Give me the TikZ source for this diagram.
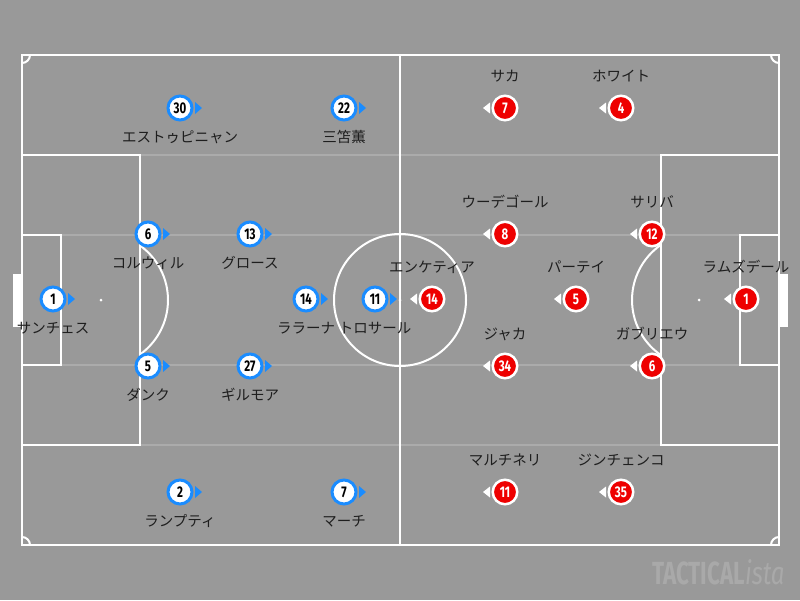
\documentclass[tikz,border=0pt]{standalone}
\usepackage{fontspec}
\setmainfont{Fira Sans}
\newfontfamily\jpfont{Noto Sans CJK JP}
\usetikzlibrary{calc}
\definecolor{bg}{HTML}{999999}
\definecolor{faint}{HTML}{ABABAB}
\definecolor{tblue}{HTML}{1A8CFF}
\definecolor{tred}{HTML}{EE0000}
\definecolor{logoc}{HTML}{A9A9A9}
\definecolor{txt}{HTML}{1E1E1E}
\tikzset{
  pline/.style={draw=white, line width=2pt},
  fline/.style={draw=faint, line width=1.5pt},
  bp/.style={circle, draw=tblue, fill=white, line width=3pt, minimum size=24pt, inner sep=0pt, text=black, font=\bfseries\fontsize{15.5}{15.5}\selectfont},
  rp/.style={circle, draw=white, fill=tred, line width=2.5pt, minimum size=24.5pt, inner sep=0pt, text=white, font=\bfseries\fontsize{15.5}{15.5}\selectfont},
  lab/.style={font=\jpfont\fontsize{14.5}{14.5}\selectfont, text=txt, inner sep=0pt},
}
\newcommand\bplayer[5]{%
  \node[bp] (#1) at (#2,#3) {\scalebox{0.74}[1]{#4}};
  \fill[tblue] ([xshift=1.5pt,yshift=6pt]#1.east) -- ([xshift=8.5pt]#1.east) -- ([xshift=1.5pt,yshift=-6pt]#1.east) -- cycle;
  \node[lab] (#1l) at (#2,#3+29) {#5};
}
\newcommand\rplayer[5]{%
  \node[rp] (#1) at (#2,#3) {\scalebox{0.74}[1]{#4}};
  \fill[white] ([xshift=-1.5pt,yshift=5.5pt]#1.west) -- ([xshift=-8.5pt]#1.west) -- ([xshift=-1.5pt,yshift=-5.5pt]#1.west) -- cycle;
  \node[lab] (#1l) at (#2,#3-32) {#5};
}
\begin{document}
\begin{tikzpicture}[x=1pt,y=-1pt]
\fill[bg] (0,0) rectangle (800,600);
\useasboundingbox (0,0) rectangle (800,600);
% faint stripes
\foreach \yy in {155,235,365,445} \draw[fline] (22,\yy) -- (779,\yy);
% pitch
\draw[pline] (22,55) rectangle (779,545);
\draw[pline] (400,55) -- (400,545);
\draw[pline] (400,300) circle[radius=66];
\draw[pline] (22,155) rectangle (140,445);
\draw[pline] (22,235) rectangle (61,365);
\draw[pline] (779,155) rectangle (661,445);
\draw[pline] (779,235) rectangle (740,365);
\draw[pline] (101,300) ++(-54.4:67) arc[start angle=-54.4,end angle=54.4,radius=67];
\draw[pline] (699,300) ++(125.6:67) arc[start angle=125.6,end angle=234.4,radius=67];
\fill[white] (101,300) circle[radius=1.5];
\fill[white] (400,300) circle[radius=1.5];
\fill[white] (699,300) circle[radius=1.5];
\fill[white] (13,274) rectangle (22,327);
\fill[white] (779,274) rectangle (788,327);
\draw[pline] (30,55) arc[start angle=0,end angle=90,radius=8];
\draw[pline] (771,55) arc[start angle=180,end angle=90,radius=8];
\draw[pline] (30,545) arc[start angle=0,end angle=-90,radius=8];
\draw[pline] (771,545) arc[start angle=180,end angle=270,radius=8];
% blue team
\bplayer{b30}{180}{108}{30}{エストゥピニャン}
\bplayer{b22}{344}{108}{22}{三笘薫}
\bplayer{b6}{148}{234}{6}{コルウィル}
\bplayer{b13}{250}{234}{13}{グロース}
\bplayer{b1}{53}{299}{1}{サンチェス}
\bplayer{b14}{306}{299}{14}{ララーナ}
\bplayer{b11}{375}{299}{11}{トロサール}
\bplayer{b5}{148}{366}{5}{ダンク}
\bplayer{b27}{250}{366}{27}{ギルモア}
\bplayer{b2}{180}{492}{2}{ランプティ}
\bplayer{b7}{344}{492}{7}{マーチ}
% red team
\rplayer{r7}{505}{108}{7}{サカ}
\rplayer{r4}{621}{108}{4}{ホワイト}
\rplayer{r8}{505}{234}{8}{ウーデゴール}
\rplayer{r12}{652}{234}{12}{サリバ}
\rplayer{r14}{432}{299}{14}{エンケティア}
\rplayer{r5}{576}{299}{5}{パーテイ}
\rplayer{r1}{746}{299}{1}{ラムズデール}
\rplayer{r34}{505}{366}{34}{ジャカ}
\rplayer{r6}{652}{366}{6}{ガブリエウ}
\rplayer{r11}{505}{492}{11}{マルチネリ}
\rplayer{r35}{621}{492}{35}{ジンチェンコ}
% logo
\node[anchor=west, text=logoc, inner sep=0pt] (logo) at (652,572) {\fontsize{32}{32}\selectfont\scalebox{0.7}[1]{\bfseries TACTICAL}\scalebox{0.75}[1]{\itshape ista}};
\end{tikzpicture}
\end{document}
